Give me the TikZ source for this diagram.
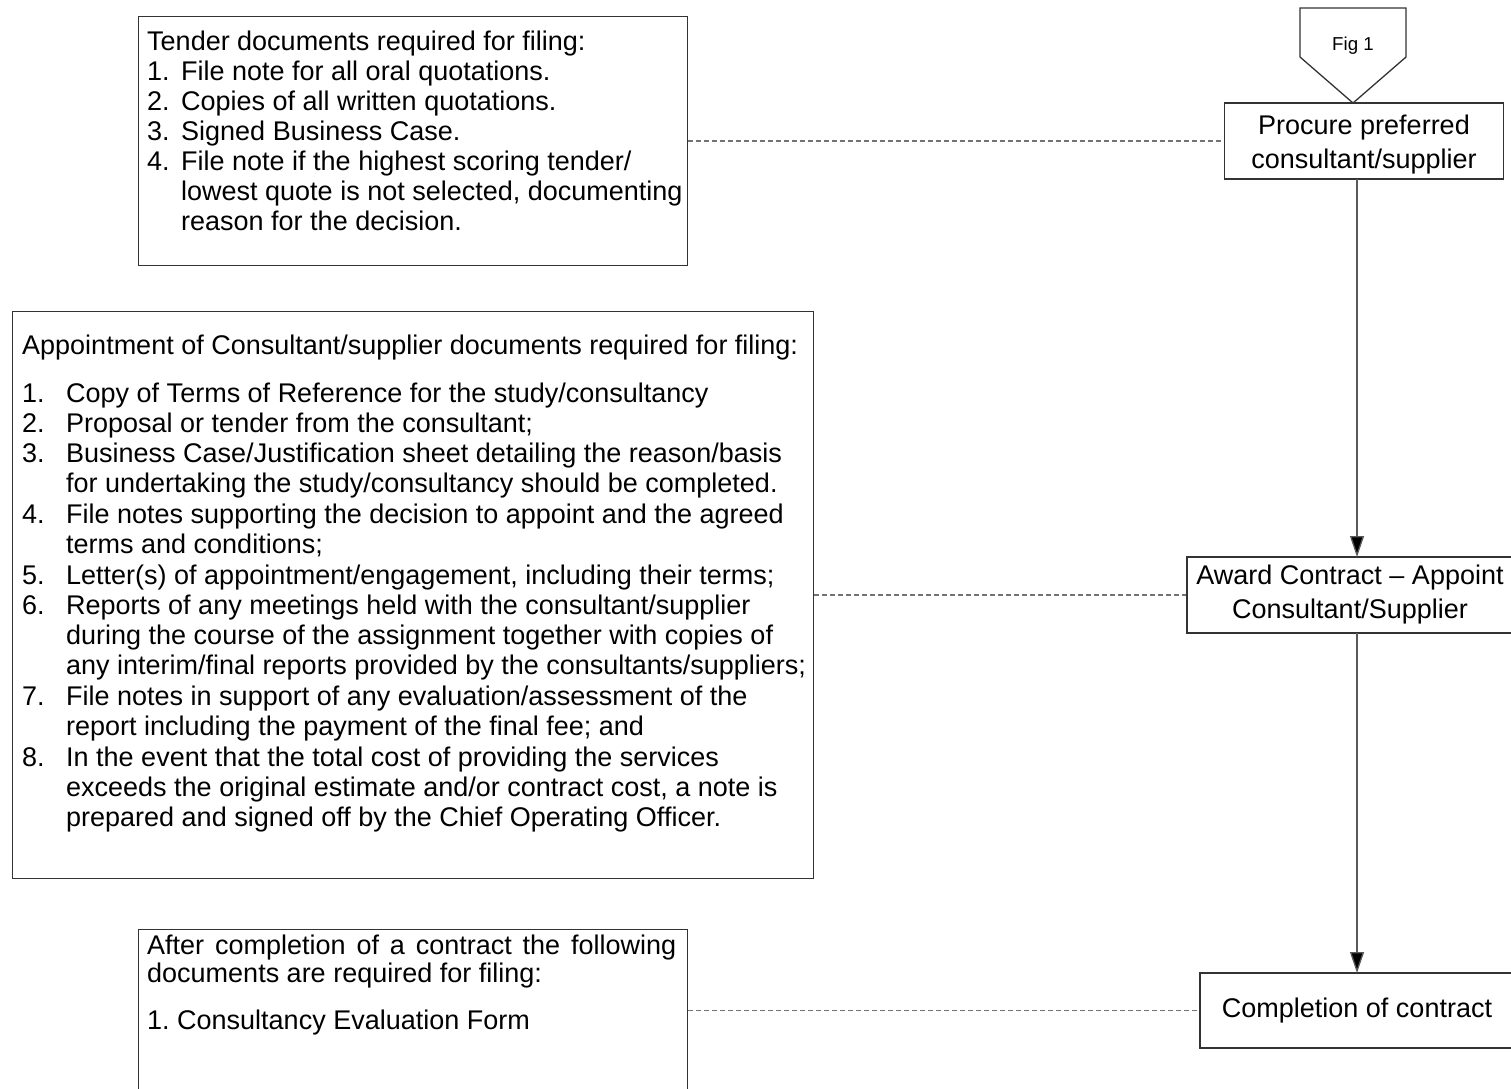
\documentclass[tikz,border=0pt]{standalone}
\usepackage{fontspec}
\setmainfont{Liberation Sans}
\usetikzlibrary{arrows.meta}
\newcommand{\numitem}[3]{\par\noindent\makebox[#1][l]{#2}\begin{tabular}[t]{@{}l@{}}#3\end{tabular}}
\newcommand{\natsp}{\spaceskip=0pt\xspaceskip=0pt\relax}
\begin{document}
\begin{tikzpicture}[x=1pt,y=-1pt,
  frame/.style={draw=black!80, line width=1.3pt, rectangle, inner sep=0pt, anchor=north west},
  txt/.style={anchor=north west, inner sep=0pt, align=flush left, font=\fontsize{27}{30}\selectfont},
  flowbox/.style={draw=black!80, line width=1.3pt, rectangle, inner sep=0pt, align=center,
    font=\fontsize{27}{34}\selectfont},
  conn/.style={draw=black!65, line width=1.3pt, -{Triangle[length=21pt,width=14pt,fill=black]}},
  link/.style={draw=black!55, line width=1.2pt, dash pattern=on 5pt off 3pt}]
\useasboundingbox (0,0) rectangle (1511,1088);

% ---------- left document boxes ----------
\node[frame, minimum width=549pt, minimum height=249pt] (tender) at (138,16) {};
\node[txt, text width=600pt] (tendertxt) at (147,29.5) {\natsp\strut Tender documents required for filing:
  \numitem{34pt}{1.}{File note for all oral quotations.}
  \numitem{34pt}{2.}{Copies of all written quotations.}
  \numitem{34pt}{3.}{Signed Business Case.}
  \numitem{34pt}{4.}{File note if the highest scoring tender/\\lowest quote is not selected, documenting\\reason for the decision.}};

\node[frame, minimum width=801pt, minimum height=567pt] (appoint) at (12,311) {};
\node[txt, text width=850pt] (appointtxt) at (22,333.5) {\natsp\strut Appointment of Consultant/supplier documents required for filing:\par\vspace{18pt}
  \numitem{44pt}{1.}{Copy of Terms of Reference for the study/consultancy}
  \numitem{44pt}{2.}{Proposal or tender from the consultant;}
  \numitem{44pt}{3.}{Business Case/Justification sheet detailing the reason/basis\\for undertaking the study/consultancy should be completed.}
  \numitem{44pt}{4.}{File notes supporting the decision to appoint and the agreed\\terms and conditions;}
  \numitem{44pt}{5.}{Letter(s) of appointment/engagement, including their terms;}
  \numitem{44pt}{6.}{Reports of any meetings held with the consultant/supplier\\during the course of the assignment together with copies of\\any interim/final reports provided by the consultants/suppliers;}
  \numitem{44pt}{7.}{File notes in support of any evaluation/assessment of the\\report including the payment of the final fee; and}
  \numitem{44pt}{8.}{In the event that the total cost of providing the services\\exceeds the original estimate and/or contract cost, a note is\\prepared and signed off by the Chief Operating Officer.}};

\node[frame, minimum width=549pt, minimum height=180pt] (after) at (138,929) {};
\node[txt, text width=600pt, font=\fontsize{27}{28}\selectfont] (aftertxt) at (147,935) {\natsp\strut\makebox[529pt][l]{After\hfill completion\hfill of\hfill a\hfill contract\hfill the\hfill following}\\documents are required for filing:\par\vspace{19pt}
  \noindent 1.\ Consultancy Evaluation Form};

% ---------- right flow ----------
\draw[draw=black!80, line width=1.3pt] (1300,8) -- (1406,8) -- (1406,57) -- (1353,103) -- (1300,57) -- cycle;
\node[font=\fontsize{18.7}{22}\selectfont, inner sep=0pt] (fig) at (1353,46) {Fig 1};

\node[flowbox, minimum width=279pt, minimum height=76pt] (procure) at (1364,141) {\natsp\rule{0pt}{27pt}Procure preferred\\consultant/supplier};
\node[flowbox, minimum width=326pt, minimum height=76pt] (award) at (1350,595) {\natsp Award Contract -- Appoint\\Consultant/Supplier};
\node[flowbox, minimum width=314pt, minimum height=75pt] (complete) at (1357,1010.5) {\natsp Completion of contract};

\coordinate (p1) at (1357,179);
\coordinate (a1) at (1357,557);
\coordinate (a2) at (1357,633);
\coordinate (c1) at (1357,973);
\draw[conn] (p1) -- (a1);
\draw[conn] (a2) -- (c1);

\draw[link] (tender.east |- procure.west) -- (procure.west);
\draw[link] (appoint.east |- award.west) -- (award.west);
\draw[link] (after.east |- complete.west) -- (complete.west);
\end{tikzpicture}
\end{document}
